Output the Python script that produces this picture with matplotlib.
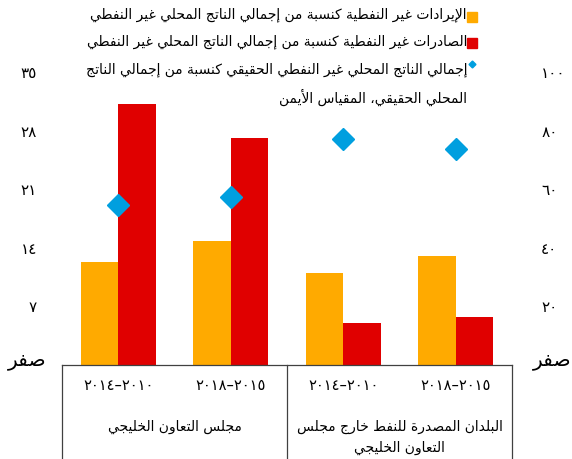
import matplotlib
matplotlib.use("Agg")
import matplotlib.pyplot as plt
import matplotlib.transforms as mtransforms
from matplotlib.lines import Line2D
import numpy as np

# data
periods = ["٢٠١٤–٢٠١٠", "٢٠١٨–٢٠١٥", "٢٠١٤–٢٠١٠", "٢٠١٨–٢٠١٥"]
groups = ["مجلس التعاون الخليجي", "البلدان المصدرة للنفط خارج مجلس\nالتعاون الخليجي"]
revenue = [12.3, 14.8, 11.0, 13.0]      # left axis
exports = [31.2, 27.1, 5.0, 5.7]        # left axis
real_gdp = [54.6, 57.3, 77.1, 73.7]     # right axis
left_ticks = [7, 14, 21, 28, 35]
left_labels = ["٧", "١٤", "٢١", "٢٨", "٣٥"]
right_ticks = [20, 40, 60, 80, 100]
right_labels = ["٢٠", "٤٠", "٦٠", "٨٠", "١٠٠"]
zero_label = "صفر"
legend_lines = [
    "الإيرادات غير النفطية كنسبة من إجمالي الناتج المحلي غير النفطي",
    "الصادرات غير النفطية كنسبة من إجمالي الناتج المحلي غير النفطي",
    "إجمالي الناتج المحلي غير النفطي الحقيقي كنسبة من إجمالي الناتج",
    "المحلي الحقيقي، المقياس الأيمن",
]

ORANGE = "#FFAA00"
RED = "#E00000"
BLUE = "#009FDF"

# matplotlib has no arabic shaping, so pick presentation forms by hand
FORMS = {
    "ء": (0xFE80, 1), "آ": (0xFE81, 2), "أ": (0xFE83, 2), "ؤ": (0xFE85, 2),
    "إ": (0xFE87, 2), "ئ": (0xFE89, 4), "ا": (0xFE8D, 2), "ب": (0xFE8F, 4),
    "ة": (0xFE93, 2), "ت": (0xFE95, 4), "ث": (0xFE99, 4), "ج": (0xFE9D, 4),
    "ح": (0xFEA1, 4), "خ": (0xFEA5, 4), "د": (0xFEA9, 2), "ذ": (0xFEAB, 2),
    "ر": (0xFEAD, 2), "ز": (0xFEAF, 2), "س": (0xFEB1, 4), "ش": (0xFEB5, 4),
    "ص": (0xFEB9, 4), "ض": (0xFEBD, 4), "ط": (0xFEC1, 4), "ظ": (0xFEC5, 4),
    "ع": (0xFEC9, 4), "غ": (0xFECD, 4), "ف": (0xFED1, 4), "ق": (0xFED5, 4),
    "ك": (0xFED9, 4), "ل": (0xFEDD, 4), "م": (0xFEE1, 4), "ن": (0xFEE5, 4),
    "ه": (0xFEE9, 4), "و": (0xFEED, 2), "ى": (0xFEEF, 2), "ي": (0xFEF1, 4),
}
LAM_ALEF = {"آ": 0xFEF5, "أ": 0xFEF7, "إ": 0xFEF9, "ا": 0xFEFB}


def shape_line(s):
    tokens = []
    i = 0
    while i < len(s):
        c = s[i]
        if c == "ل" and i + 1 < len(s) and s[i + 1] in LAM_ALEF:
            tokens.append((LAM_ALEF[s[i + 1]], 2))
            i += 2
        elif c in FORMS:
            tokens.append(FORMS[c])
            i += 1
        else:
            tokens.append(c)
            i += 1
    out = []
    for k, t in enumerate(tokens):
        if isinstance(t, str):
            out.append(t)
            continue
        base, n = t
        prev = tokens[k - 1] if k > 0 else None
        nxt = tokens[k + 1] if k + 1 < len(tokens) else None
        jp = prev is not None and not isinstance(prev, str) and prev[1] == 4
        jn = n == 4 and nxt is not None and not isinstance(nxt, str) and nxt[1] >= 2
        if n == 1:
            form = 0
        elif n == 2:
            form = 1 if jp else 0
        else:
            form = {(False, False): 0, (True, False): 1,
                    (False, True): 2, (True, True): 3}[(jp, jn)]
        out.append(chr(base + form))
    return "".join(reversed(out))


def ar(s):
    return shape_line(s)


plt.rcParams["font.family"] = ["DejaVu Sans"]

W, H = 572, 459
fig = plt.figure(figsize=(W / 100, H / 100), dpi=100)
ax_l, ax_r, ax_top, ax_bot = 62, 512, 72, 365
ax = fig.add_axes([ax_l / W, 1 - ax_bot / H, (ax_r - ax_l) / W, (ax_bot - ax_top) / H])
ax2 = ax.twinx()

x = np.arange(len(periods))
w = 0.333
ax.bar(x - w / 2, revenue, w, color=ORANGE, zorder=2)
ax.bar(x + w / 2, exports, w, color=RED, zorder=2)
ax.set_xlim(-0.5, 3.5)
ax.set_ylim(0, 35)
ax2.set_ylim(0, 100)
ax2.plot(x, real_gdp, linestyle="none", marker="D", markersize=11,
         color=BLUE, zorder=3)

for a in (ax, ax2):
    for sp in a.spines.values():
        sp.set_visible(False)
    a.set_xticks([])
ax.set_yticks(left_ticks)
ax.set_yticklabels(left_labels, fontsize=11)
ax.tick_params(axis="y", length=0, pad=18)
ax2.set_yticks(right_ticks)
ax2.set_yticklabels(right_labels, fontsize=11)
ax2.tick_params(axis="y", length=0, pad=21)

# zero labels
fig.text(27 / W, 1 - 360 / H, ar(zero_label), fontsize=14.5, ha="center", va="center")
fig.text(552 / W, 1 - 360 / H, ar(zero_label), fontsize=14.5, ha="center", va="center")

# category box under the plot
trans = mtransforms.blended_transform_factory(ax.transAxes, fig.transFigure)
box_kw = dict(color="#404040", linewidth=0.9, transform=trans, clip_on=False)
y0 = 1 - ax_bot / H
ax.add_line(Line2D([0, 1], [y0, y0], **box_kw))
for xv in (0, 0.5, 1):
    ax.add_line(Line2D([xv, xv], [y0, 0], **box_kw))

dtrans = mtransforms.blended_transform_factory(ax.transData, fig.transFigure)
for xi, p in zip(x, periods):
    ax.text(xi, 1 - 386 / H, p, fontsize=10.5, ha="center", va="center",
            transform=dtrans)
for gi, g in enumerate(groups):
    for li, line in enumerate(g.split("\n")):
        ax.text(0.5 + 2 * gi, 1 - (427 + 21 * li) / H, ar(line), fontsize=10,
                ha="center", va="center", transform=dtrans)

# legend drawn by hand (right to left)
leg_x = 467
line_y = [15, 42, 70, 97]
for yy, txt in zip(line_y, legend_lines):
    fig.text(leg_x / W, 1 - yy / H, ar(txt), fontsize=10, ha="right", va="center")
mk_x = (leg_x + 5) / W
fig.add_artist(Line2D([mk_x], [1 - 17 / H], marker="s", markersize=6.5,
                      color=ORANGE, linestyle="none", transform=fig.transFigure))
fig.add_artist(Line2D([mk_x], [1 - 43 / H], marker="s", markersize=6.5,
                      color=RED, linestyle="none", transform=fig.transFigure))
fig.add_artist(Line2D([mk_x], [1 - 64 / H], marker="D", markersize=3.5,
                      color=BLUE, linestyle="none", transform=fig.transFigure))

fig.savefig("out.png", dpi=100)
